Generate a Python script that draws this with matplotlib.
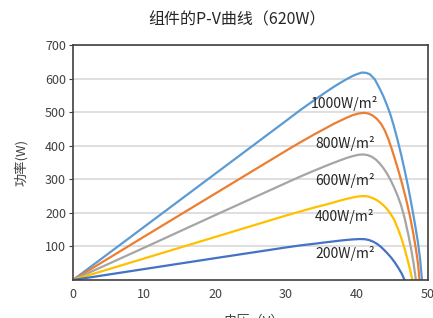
import matplotlib
matplotlib.use("Agg")
import matplotlib.pyplot as plt

plt.rcParams['font.family'] = ['Noto Sans CJK SC', 'DejaVu Sans']

# P-V curves (voltage V, power W)
v_1000 = [0, 10, 20, 30, 32, 34, 35.5, 36.7, 37.7, 38.6, 39.4, 40.1, 40.7, 41.3, 41.8, 42.5, 43.2, 43.7,
          44.2, 44.7, 45.2, 45.7, 46.2, 46.7, 47.2, 47.7, 48.2, 48.6, 48.9, 49.15]
p_1000 = [0, 158, 316, 474, 506, 536, 558, 575, 588, 599, 608, 614, 618, 617, 613, 598, 570, 548,
          522, 493, 458, 418, 375, 328, 278, 222, 162, 110, 60, 0]

v_800 = [0, 10, 20, 30, 32, 34, 35.5, 36.7, 37.7, 38.6, 39.4, 40.2, 41.0, 41.6, 42.2, 42.8, 43.4, 43.9,
         44.4, 44.9, 45.4, 45.9, 46.4, 46.9, 47.4, 47.9, 48.3, 48.6, 48.8]
p_800 = [0, 129, 257, 385, 410, 434, 451, 465, 475, 484, 491, 496, 498, 496, 490, 480, 465, 446,
         421, 390, 356, 321, 283, 242, 196, 142, 92, 48, 0]

v_600 = [0, 10, 20, 30, 32, 34, 35.5, 36.7, 37.7, 38.6, 39.4, 40.2, 40.9, 41.5, 42.1, 42.7, 43.2, 43.7,
         44.2, 44.7, 45.2, 45.7, 46.2, 46.7, 47.2, 47.6, 47.95, 48.3]
p_600 = [0, 96, 193, 289, 308, 326, 339, 349, 357, 364, 369, 373, 374, 372, 367, 358, 347, 334,
         318, 299, 277, 252, 223, 185, 138, 95, 52, 0]

v_400 = [0, 10, 20, 30, 32, 34, 35.5, 36.7, 37.7, 38.6, 39.4, 40.2, 40.9, 41.5, 42.1, 42.7, 43.2, 43.7,
         44.2, 44.7, 45.2, 45.7, 46.2, 46.7, 47.1, 47.45, 47.8]
p_400 = [0, 64, 128, 192, 204, 216, 224, 231, 237, 242, 246, 249, 250, 249, 245, 239, 232, 223,
         212, 198, 181, 156, 128, 94, 62, 33, 0]

v_200 = [0, 10, 20, 30, 32, 34, 35.5, 36.7, 37.7, 38.6, 39.5, 40.4, 41.1, 41.7, 42.3, 42.8, 43.3, 43.8,
         44.3, 44.8, 45.3, 45.8, 46.3, 46.7]
p_200 = [0, 32.5, 65, 97, 103, 108, 112, 115, 117.5, 119.5, 121, 122, 121.5, 119, 114, 108, 100, 90,
         79, 67, 53, 37, 19, 0]

labels = ['1000W/m²', '800W/m²', '600W/m²', '400W/m²', '200W/m²']
colors = ['#5B9BD5', '#ED7D31', '#A5A5A5', '#FFC000', '#4472C4']
label_y = [525, 408, 295, 188, 80]

curves = [(v_1000, p_1000), (v_800, p_800), (v_600, p_600), (v_400, p_400), (v_200, p_200)]

fig = plt.figure(figsize=(4.33, 3.18), dpi=100)
ax = fig.add_axes([73 / 433, 38 / 318, 355 / 433, 235 / 318])

for (v, p), c in zip(curves, colors):
    ax.plot(v, p, color=c, lw=1.6, solid_joinstyle='round', solid_capstyle='round')

for lab, y in zip(labels, label_y):
    ax.text(38.3, y, lab, fontsize=10, color='#262626', ha='center', va='center')

ax.set_xlim(0, 50)
ax.set_ylim(0, 700)
ax.set_xticks(range(0, 51, 10))
ax.set_yticks(range(100, 701, 100))
ax.yaxis.grid(True, color='#d9d9d9', lw=1.2)
ax.set_axisbelow(True)
ax.tick_params(axis='both', labelsize=9, colors='#404040')
ax.tick_params(axis='x', length=0, pad=6)
ax.tick_params(axis='y', length=3, pad=2)
for s in ax.spines.values():
    s.set_color('#404040')
    s.set_linewidth(1.2)

fig.text(237 / 433, 1 - 20 / 318, '组件的P-V曲线（620W）', fontsize=11.5, color='#262626',
         ha='center', va='center')
fig.text(21 / 433, 0.49, '功率(W)', fontsize=9.5, color='#404040', rotation=90,
         ha='center', va='center')
fig.text(254 / 433, 1 - 321 / 318, '电压（V）', fontsize=9.5, color='#404040',
         ha='center', va='center')

fig.savefig('out.png', dpi=100)
